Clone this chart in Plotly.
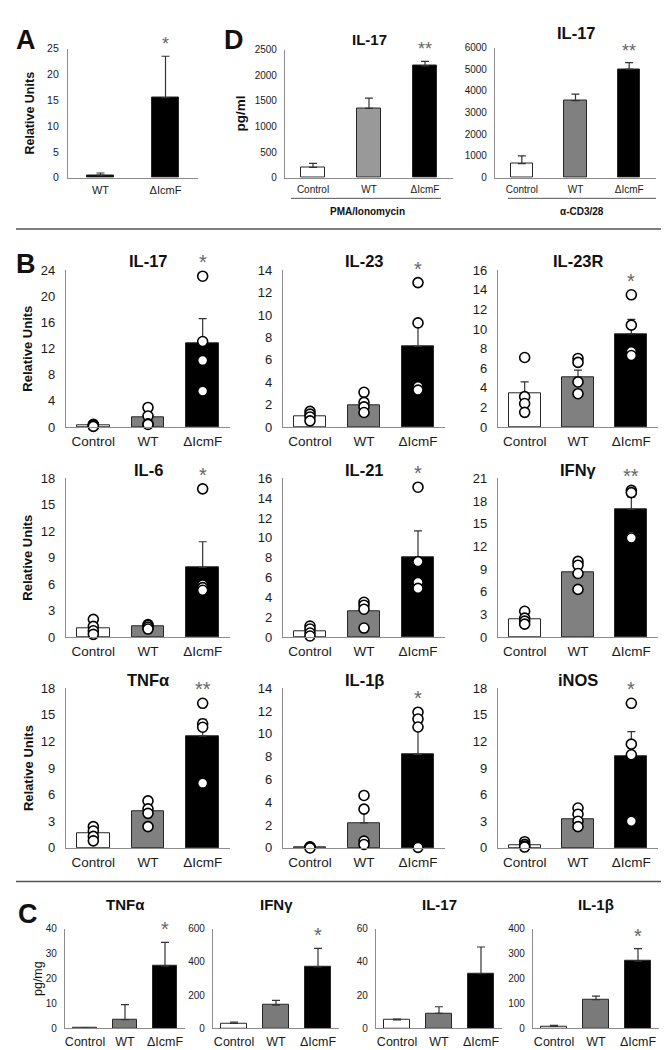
import plotly.graph_objects as go

W, H = 669, 1050
FONT = "Arial, Liberation Sans, sans-serif"

# ---------------- data ----------------
CATS3 = ["Control", "WT", "ΔIcmF"]
CATS_A = ["WT", "ΔIcmF"]

# Panel A
A_MEAN = [0.5, 15.5]
A_ERR = [0.4, 8.0]
A_SIG = "*"

# Panel D (IL-17, pg/ml)
D_PMA_MEAN = [200, 1350, 2180]
D_PMA_ERR = [80, 200, 90]
D_CD3_MEAN = [650, 3550, 5000]
D_CD3_ERR = [350, 300, 300]
D_SIG = "**"

# Panel B (relative units): means, sem, individual points
B_TITLES = ["IL-17", "IL-23", "IL-23R", "IL-6", "IL-21", "IFNγ", "TNFα", "IL-1β", "iNOS"]
B_YMAX = [24, 14, 16, 18, 16, 21, 18, 14, 18]
B_DTICK = [4, 2, 2, 3, 2, 3, 3, 2, 3]
B_SIG = ["*", "*", "*", "*", "*", "**", "**", "*", "*"]

IL17_MEAN = [0.2, 1.5, 12.8]
IL17_ERR = [0.1, 0.7, 3.8]
IL17_PTS = [[0.4, 0.3, 0.2, 0.1], [3.0, 1.7, 0.5, 0.4], [23.1, 13.1, 10.2, 5.5]]

IL23_MEAN = [1.0, 1.9, 7.2]
IL23_ERR = [0.2, 0.5, 2.1]
IL23_PTS = [[1.4, 1.15, 0.9, 0.55], [3.1, 2.2, 1.8, 1.3], [12.9, 9.3, 3.6, 3.3]]

IL23R_MEAN = [3.4, 5.1, 9.5]
IL23R_ERR = [1.2, 0.7, 1.5]
IL23R_PTS = [[7.1, 3.1, 2.4, 1.5], [7.0, 6.6, 4.6, 3.4], [13.5, 10.4, 7.7, 7.3]]

IL6_MEAN = [1.0, 1.2, 7.9]
IL6_ERR = [0.4, 0.1, 2.9]
IL6_PTS = [[2.0, 1.2, 0.7, 0.3], [1.4, 1.3, 1.1, 0.9], [16.8, 5.9, 5.6, 5.3]]

IL21_MEAN = [0.6, 2.6, 8.0]
IL21_ERR = [0.2, 0.6, 2.7]
IL21_PTS = [[1.1, 0.8, 0.4, 0.1], [3.5, 3.2, 2.8, 0.9], [15.1, 7.6, 5.5, 4.9]]

IFNG_MEAN = [2.3, 8.5, 16.9]
IFNG_ERR = [0.4, 0.9, 1.6]
IFNG_PTS = [[3.4, 2.5, 2.1, 1.7], [10.0, 9.5, 8.4, 6.3], [19.4, 19.1, 13.3, 13.1]]

TNFA_MEAN = [1.6, 4.1, 12.6]
TNFA_ERR = [0.3, 0.6, 1.9]
TNFA_PTS = [[2.4, 1.9, 1.3, 0.8], [5.3, 4.4, 3.9, 2.4], [16.3, 14.0, 13.6, 7.3]]

IL1B_MEAN = [0.05, 2.2, 8.2]
IL1B_ERR = [0.03, 1.1, 2.7]
IL1B_PTS = [[0.1, 0.05, 0.05, 0.0], [4.6, 3.4, 0.6, 0.3], [11.9, 11.3, 10.6, 0.05]]

INOS_MEAN = [0.3, 3.2, 10.3]
INOS_ERR = [0.15, 0.5, 2.8]
INOS_PTS = [[0.7, 0.4, 0.2, 0.1], [4.5, 3.8, 3.0, 2.4], [16.3, 11.7, 10.5, 3.0]]

B_MEANS = [IL17_MEAN, IL23_MEAN, IL23R_MEAN, IL6_MEAN, IL21_MEAN, IFNG_MEAN, TNFA_MEAN, IL1B_MEAN, INOS_MEAN]
B_ERRS = [IL17_ERR, IL23_ERR, IL23R_ERR, IL6_ERR, IL21_ERR, IFNG_ERR, TNFA_ERR, IL1B_ERR, INOS_ERR]
B_PTS = [IL17_PTS, IL23_PTS, IL23R_PTS, IL6_PTS, IL21_PTS, IFNG_PTS, TNFA_PTS, IL1B_PTS, INOS_PTS]

# Panel C (pg/mg)
C_TITLES = ["TNFα", "IFNγ", "IL-17", "IL-1β"]
C_YMAX = [40, 600, 60, 400]
C_DTICK = [10, 200, 20, 100]
C_MEAN = [[0.2, 3.5, 25.0], [30, 140, 370], [5.0, 9.0, 33.0], [8, 115, 270]]
C_ERR = [[0.0, 6.0, 9.5], [8, 28, 112], [0.5, 4.0, 16.0], [4, 14, 50]]
C_SIG = ["*", "*", "", "*"]

# ---------------- helpers ----------------
fig = go.Figure()
annotations = []
shapes = []
layout_axes = {}
counter = [0]

def px(x):
    return x / W

def py(y):
    return 1 - y / H

def panel(xpx, ypx, cats, means, errs, fills, ymax, dtick, pts=None, sig="",
          tickfont=12, catfont=13, barwidth=0.6, msize=10, sig_size=20, sig_shift=0,
          standoff=3):
    counter[0] += 1
    n = counter[0]
    xa = "x" if n == 1 else f"x{n}"
    ya = "y" if n == 1 else f"y{n}"
    xs = list(range(len(cats)))
    fig.add_trace(go.Bar(
        x=xs, y=means, width=barwidth, xaxis=xa, yaxis=ya, showlegend=False,
        marker=dict(color=fills, line=dict(color="#262626", width=1)),
        error_y=dict(type="data", array=errs, arrayminus=[0] * len(errs), symmetric=False,
                     color="#333333", thickness=1.2, width=4),
    ))
    sig_ref = means[-1] + errs[-1]
    if pts is not None:
        px_list, py_list = [], []
        for i, grp in enumerate(pts):
            px_list += [i] * len(grp)
            py_list += grp
        fig.add_trace(go.Scatter(
            x=px_list, y=py_list, mode="markers", xaxis=xa, yaxis=ya, showlegend=False,
            cliponaxis=False,
            marker=dict(size=msize, color="white", line=dict(color="black", width=1.6)),
        ))
        sig_ref = max(sig_ref, max(pts[-1]))
    kx = "xaxis" if n == 1 else f"xaxis{n}"
    ky = "yaxis" if n == 1 else f"yaxis{n}"
    layout_axes[kx] = dict(
        domain=[px(xpx[0]), px(xpx[1])], anchor=ya, range=[-0.5, len(cats) - 0.5],
        tickvals=xs, ticktext=cats, showline=True, linecolor="#8c8c8c", linewidth=1.2,
        ticks="", showgrid=False, zeroline=False, fixedrange=True, ticklabelstandoff=2,
        tickfont=dict(family=FONT, size=catfont, color="#1a1a1a"),
    )
    layout_axes[ky] = dict(
        domain=[py(ypx[1]), py(ypx[0])], anchor=xa, range=[0, ymax], dtick=dtick, tick0=0,
        showline=True, linecolor="#8c8c8c", linewidth=1.2, ticks="", showgrid=False,
        zeroline=False, fixedrange=True, ticklabelstandoff=standoff,
        tickfont=dict(family=FONT, size=tickfont, color="#1a1a1a"),
    )
    if sig:
        annotations.append(dict(
            x=len(cats) - 1, y=sig_ref, xref=xa, yref=ya, text=sig, showarrow=False,
            yanchor="bottom", yshift=sig_shift,
            font=dict(family=FONT, size=sig_size, color="#666666"),
        ))

def text(x, y, s, size, bold=True, angle=0, color="#111111"):
    annotations.append(dict(
        x=px(x), y=py(y), xref="paper", yref="paper", text=f"<b>{s}</b>" if bold else s,
        showarrow=False, xanchor="center", yanchor="middle", textangle=angle,
        font=dict(family=FONT, size=size, color=color),
    ))

def hline(x0, x1, y, width=1.2, color="#555555"):
    shapes.append(dict(type="line", xref="paper", yref="paper",
                       x0=px(x0), x1=px(x1), y0=py(y), y1=py(y),
                       line=dict(color=color, width=width)))

FILL3 = ["white", "#808080", "black"]

# ---------------- Panel A ----------------
panel((60, 190), (34, 165), CATS_A, A_MEAN, A_ERR, ["black", "black"], 25, 5,
      sig=A_SIG, tickfont=10.5, catfont=11, barwidth=0.42, sig_size=18, standoff=6)
text(18, 25, "A", 27)
text(22, 100, "Relative Units", 12.5, angle=-90)

# ---------------- Panel D ----------------
panel((277, 445), (35, 165), CATS3, D_PMA_MEAN, D_PMA_ERR, ["white", "#999999", "black"],
      2500, 500, sig=D_SIG, tickfont=10, catfont=10, barwidth=0.42, sig_size=18, standoff=5)
panel((487, 648), (33, 165), CATS3, D_CD3_MEAN, D_CD3_ERR, ["white", "#808080", "black"],
      6000, 1000, sig=D_SIG, tickfont=10, catfont=10, barwidth=0.42, sig_size=18, standoff=5)
text(226, 25, "D", 27)
text(233, 100, "pg/ml", 13.5, angle=-90)
text(361, 25, "IL-17", 15)
text(568, 18, "IL-17", 16.5)
hline(283, 433, 186, width=1)
hline(500, 648, 186, width=1)
text(359, 199, "PMA/Ionomycin", 10)
text(574, 199, "α-CD3/28", 10)

hline(8, 660, 217, width=1.5)

# ---------------- Panel B ----------------
B_COLS = [(58, 222), (275, 437), (490, 650)]
B_ROWS = [(259, 418), (470, 631), (683, 845)]
B_TITLE_Y = [250, 462, 675]
for k in range(9):
    r, c = divmod(k, 3)
    panel(B_COLS[c], B_ROWS[r], CATS3, B_MEANS[k], B_ERRS[k], FILL3, B_YMAX[k], B_DTICK[k],
          pts=B_PTS[k], sig=B_SIG[k], tickfont=13, catfont=13.5, barwidth=0.6,
          sig_shift=1, standoff=7)
    text((B_COLS[c][0] + B_COLS[c][1]) / 2, B_TITLE_Y[r], B_TITLES[k], 16.5)
for r in range(3):
    text(20, (B_ROWS[r][0] + B_ROWS[r][1]) / 2, "Relative Units", 13, angle=-90)
text(18, 253, "B", 27)

hline(8, 660, 879, width=1.5)

# ---------------- Panel C ----------------
C_COLS = [(57, 177), (205, 331), (368, 494), (525, 651)]
for k in range(4):
    panel(C_COLS[k], (927, 1028), CATS3, C_MEAN[k], C_ERR[k], ["white", "#7a7a7a", "black"],
          C_YMAX[k], C_DTICK[k], sig=C_SIG[k], tickfont=10, catfont=12.5, barwidth=0.6,
          standoff=5)
    text((C_COLS[k][0] + C_COLS[k][1]) / 2, 902, C_TITLES[k], 15)
text(20, 912, "C", 27)
text(30, 978, "pg/mg", 12.5, bold=False, angle=-90)

fig.update_layout(
    width=W, height=H, autosize=False,
    margin=dict(l=0, r=0, t=0, b=0),
    paper_bgcolor="white", plot_bgcolor="white",
    showlegend=False, bargap=0,
    annotations=annotations, shapes=shapes,
    **layout_axes,
)

fig.write_html("out.html")
